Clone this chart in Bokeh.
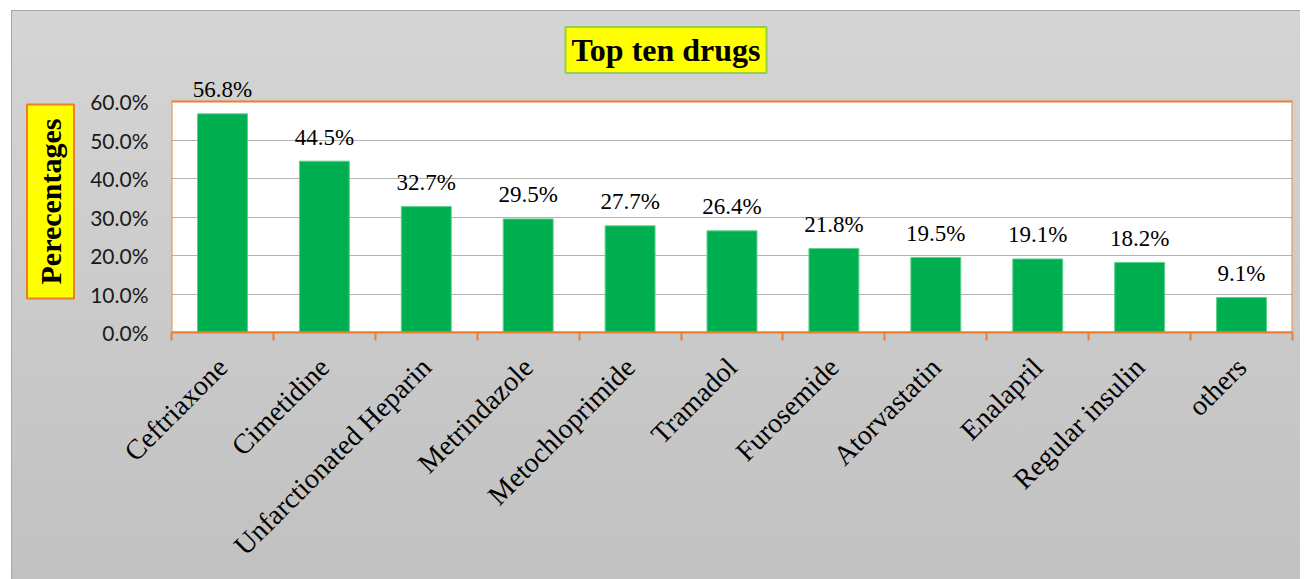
import math
from bokeh.plotting import figure
from bokeh.models import (ColumnDataSource, Label, FixedTicker,
                          NumeralTickFormatter, Range1d, Title)
from bokeh.core.properties import value
from bokeh.embed import file_html
from bokeh.resources import INLINE

# ---- data ----
drugs = ["Ceftriaxone", "Cimetidine", "Unfarctionated Heparin", "Metrindazole",
         "Metochloprimide", "Tramadol", "Furosemide", "Atorvastatin",
         "Enalapril", "Regular insulin", "others"]
percentages = [56.8, 44.5, 32.7, 29.5, 27.7, 26.4, 21.8, 19.5, 19.1, 18.2, 9.1]
y_ticks = [0.0, 0.1, 0.2, 0.3, 0.4, 0.5, 0.6]
title_text = "Top ten drugs"
y_title = "Perecentages"

xs = list(range(len(drugs)))
source = ColumnDataSource(dict(
    x=xs,
    top=[v / 100 for v in percentages],
    label=[f"{v:.1f}%" for v in percentages],
))

ORANGE = "#ED7D31"
GREEN = "#00B050"

X0, X1 = -0.5, len(drugs) - 0.5
YMAX = y_ticks[-1]
FRAME_H = 322                 # px of frame (plot area 231 px + headroom)
PX_PER_UNIT = 231 / YMAX
Y_TOP = FRAME_H / PX_PER_UNIT

p = figure(width=1303, height=569, title=None,
           x_range=Range1d(X0, X1), y_range=Range1d(0, Y_TOP),
           output_backend="svg", toolbar_location=None,
           min_border_left=100, min_border_right=8,
           min_border_top=0, min_border_bottom=569 - FRAME_H,
           background_fill_alpha=0, border_fill_alpha=0,
           outline_line_color=None,
           styles={"margin-left": "-3px", "margin-top": "10px",
                   "background": "linear-gradient(to bottom, #d5d5d5, #c1c1c1)",
                   "box-shadow": "inset 14px 0 0 white, inset 15px 0 0 #a8a8a8, inset 0 1px 0 #a8a8a8"})

# white plot area (below grid)
p.quad(left=[X0], right=[X1], bottom=[0], top=[YMAX],
       fill_color="white", line_color=None, level="image")

p.vbar(x="x", top="top", width=0.49, source=source,
       fill_color=GREEN, line_color="#5fd08c", line_width=1)

# orange plot-area border
p.quad(left=[X0], right=[X1], bottom=[0], top=[YMAX],
       fill_color=None, line_color=ORANGE, line_width=2)

# data labels
p.text(x="x", y="top", text="label", source=source,
       text_align="center", text_baseline="alphabetic", y_offset=-24,
       text_font=value("Liberation Serif"), text_font_size="23px",
       text_color="black")

# grid
p.xgrid.grid_line_color = None
p.ygrid.grid_line_color = "#b3b3b3"
p.ygrid.grid_line_width = 1

# y axis
p.yaxis.ticker = FixedTicker(ticks=y_ticks)
p.yaxis.formatter = NumeralTickFormatter(format="0.0%")
p.yaxis.axis_line_color = None
p.yaxis.major_tick_line_color = None
p.yaxis.minor_tick_line_color = None
p.yaxis.major_label_standoff = 17
p.yaxis.major_label_text_font = "Lato"
p.yaxis.major_label_text_font_size = "21px"
p.yaxis.major_label_text_color = "#1a1a1a"

# x axis
p.xaxis.ticker = FixedTicker(ticks=xs, minor_ticks=[i - 0.5 for i in range(len(drugs) + 1)])
p.xaxis.major_label_overrides = {i: d for i, d in enumerate(drugs)}
p.xaxis.axis_line_color = ORANGE
p.xaxis.axis_line_width = 2
p.xaxis.major_tick_line_color = None
p.xaxis.minor_tick_line_color = ORANGE
p.xaxis.minor_tick_line_width = 2
p.xaxis.minor_tick_out = 8
p.xaxis.minor_tick_in = 0
p.xaxis.major_label_orientation = math.pi / 4
p.xaxis.major_label_standoff = 22
p.xaxis.major_label_text_font = "Liberation Serif"
p.xaxis.major_label_text_font_size = "28px"
p.xaxis.major_label_text_color = "black"

# title box with shadow
TX = -0.5 + (665.5 - 171) / (1121 / len(drugs))
TY = (332 - 49.5) / PX_PER_UNIT
shadow = Label(x=TX, y=TY, text=title_text, x_offset=5, y_offset=-5,
               text_align="center", text_baseline="middle",
               text_font="Liberation Serif", text_font_style="bold",
               text_font_size="32px", text_alpha=0.0,
               background_fill_color="#7a7a7a", background_fill_alpha=0.45,
               padding=(6, 5))
p.add_layout(shadow)
title = Label(x=TX, y=TY, text=title_text,
              text_align="center", text_baseline="middle",
              text_font="Liberation Serif", text_font_style="bold",
              text_font_size="32px", text_color="black",
              background_fill_color="#FFFF00",
              border_line_color="#92D050", border_line_width=2,
              padding=(6, 5))
p.add_layout(title)

# y axis title box (left side panel)
ylab = Title(text=y_title, align="left", offset=34, standoff=27,
             text_font="Liberation Serif", text_font_style="bold",
             text_font_size="30px", text_color="black",
             background_fill_color="#FFFF00",
             border_line_color=ORANGE, border_line_width=2,
             padding=(14, 7))
p.add_layout(ylab, "left")

open("out.html", "w").write(file_html(p, INLINE))
